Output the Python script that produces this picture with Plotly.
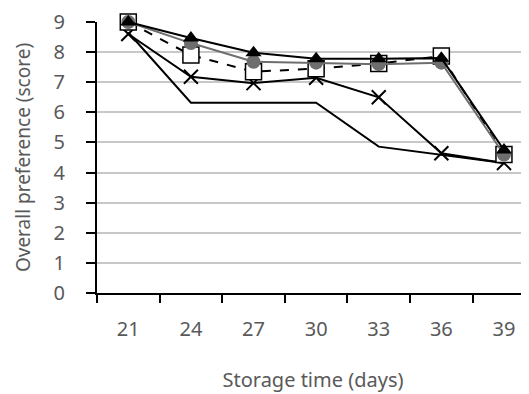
import plotly.graph_objects as go

days = ["21", "24", "27", "30", "33", "36", "39"]
tri_vals = [9.0, 8.47, 7.98, 7.78, 7.78, 7.8, 4.75]
circle_vals = [9.0, 8.3, 7.68, 7.65, 7.6, 7.65, 4.6]
square_vals = [9.0, 7.9, 7.35, 7.45, 7.62, 7.87, 4.6]
cross_vals = [8.6, 7.18, 6.97, 7.15, 6.5, 4.64, 4.32]
plain_vals = [8.65, 6.32, 6.32, 6.32, 4.86, 4.6, 4.32]
y_ticks = [0, 1, 2, 3, 4, 5, 6, 7, 8, 9]

txt = "#595959"
font = "Noto Sans"

fig = go.Figure()
fig.add_trace(go.Scatter(x=days, y=plain_vals, mode="lines",
                         line=dict(color="black", width=2), cliponaxis=False))
fig.add_trace(go.Scatter(x=days, y=cross_vals, mode="lines+markers",
                         line=dict(color="black", width=2),
                         marker=dict(symbol="x-thin", size=14,
                                     line=dict(color="black", width=2)),
                         cliponaxis=False))
fig.add_trace(go.Scatter(x=days, y=square_vals, mode="lines+markers",
                         line=dict(color="black", width=2, dash="dash"),
                         marker=dict(symbol="square", size=16, color="white",
                                     line=dict(color="black", width=1.5)),
                         cliponaxis=False))
fig.add_trace(go.Scatter(x=days, y=circle_vals, mode="lines+markers",
                         line=dict(color="#6e6e6e", width=2),
                         marker=dict(symbol="circle", size=14, color="#6e6e6e",
                                     line=dict(width=0)),
                         cliponaxis=False))
fig.add_trace(go.Scatter(x=days, y=tri_vals, mode="lines+markers",
                         line=dict(color="black", width=2),
                         marker=dict(symbol="triangle-up", size=14, color="black",
                                     line=dict(width=0)),
                         cliponaxis=False))

fig.update_layout(
    width=521, height=386,
    margin=dict(l=89, r=0, t=14, b=101),
    paper_bgcolor="white", plot_bgcolor="white",
    showlegend=False,
    font=dict(family=font, color=txt, size=20),
)
fig.update_xaxes(
    type="category", range=[-0.5, 6.4],
    tickson="boundaries", ticks="outside", ticklen=8, tickwidth=2, tickcolor="black",
    showline=True, linecolor="black", linewidth=2, showgrid=False,
    tickfont=dict(size=20, color=txt), ticklabelstandoff=17,
    title=dict(text="Storage time (days)", font=dict(size=20, color=txt), standoff=32),
)
fig.update_yaxes(
    range=[0, 9], tickmode="array", tickvals=y_ticks,
    ticks="outside", ticklen=9, tickwidth=2, tickcolor="black",
    showline=True, linecolor="black", linewidth=2,
    showgrid=True, gridcolor="#c8c8c8", gridwidth=2, zeroline=False,
    tickfont=dict(size=20, color=txt), ticklabelstandoff=17,
    title=dict(text="Overall preference (score)", font=dict(size=19, color=txt), standoff=18),
)

fig.write_html("out.html")
